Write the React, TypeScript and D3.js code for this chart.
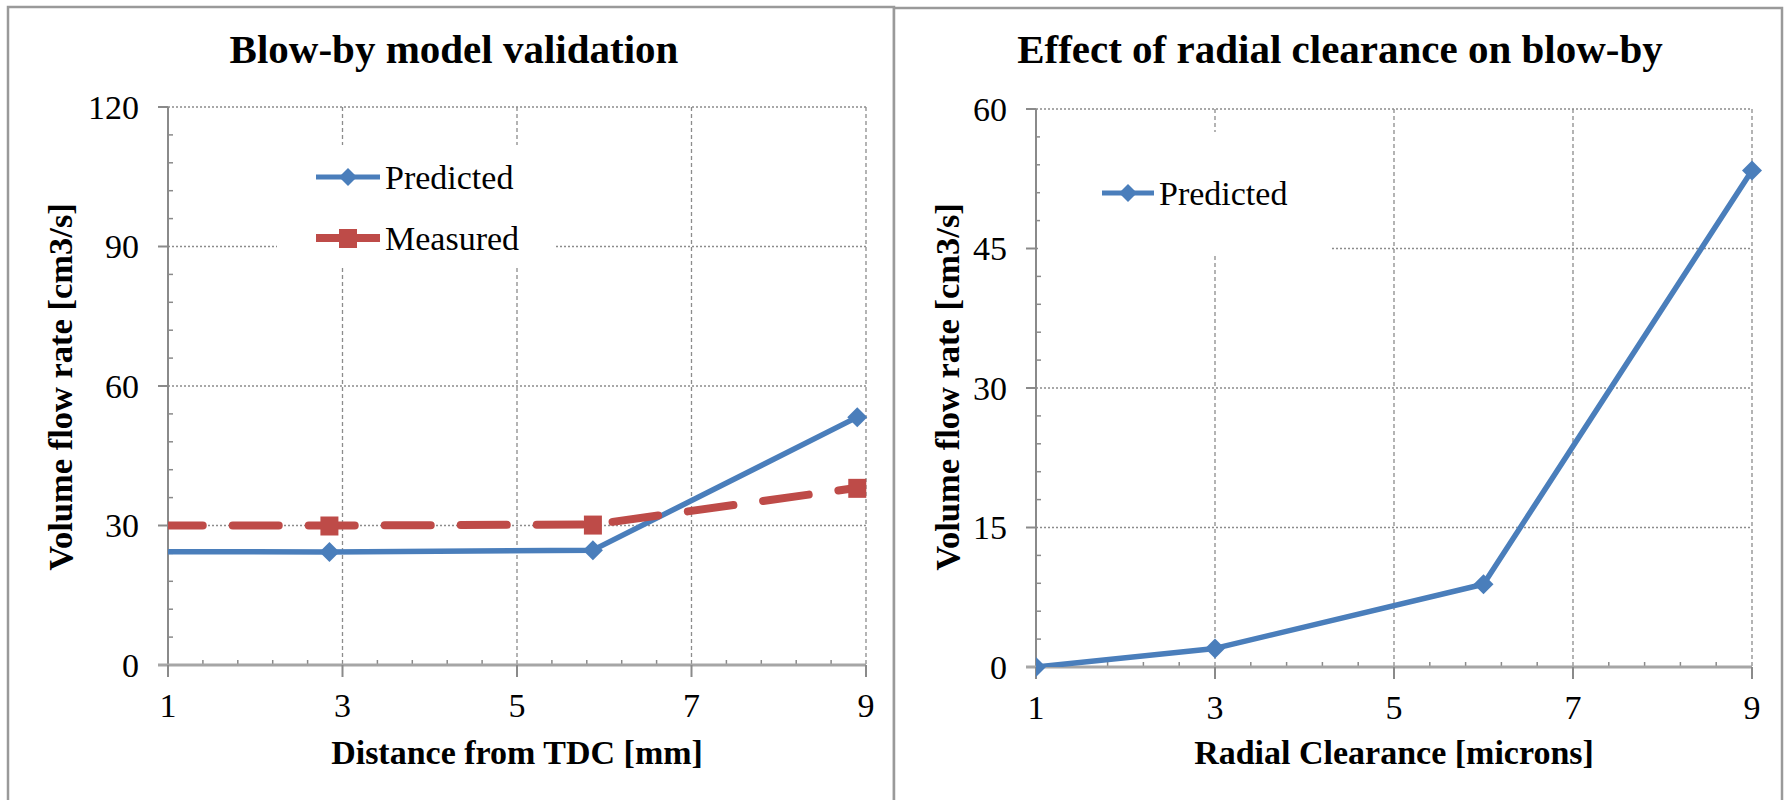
import React from "react";
import * as d3 from "d3";

// shared x ticks
const xTicks = [1, 3, 5, 7, 9];

// left chart: blow-by model validation
const leftX = [0, 2.85, 5.87, 8.9];
const leftPredicted = [24.4, 24.3, 24.7, 53.3];
const leftMeasured = [30, 30, 30.2, 38.1];
const leftYTicks = [0, 30, 60, 90, 120];

// right chart: radial clearance
const rightX = [1, 3, 6, 9];
const rightPredicted = [0, 2.0, 8.9, 53.4];
const rightYTicks = [0, 15, 30, 45, 60];

const BLUE = "#4a7ebb";
const RED = "#be4b48";
const FONT = "'Liberation Serif', 'Times New Roman', serif";

const diamond = (r) => `M0,${-r}L${r},0L0,${r}L${-r},0Z`;

const Panel = ({ id, frame, plot, yTicks, series, title, titleX, xTitle, yTitleX, legend }) => {
  const x = d3.scaleLinear().domain([1, 9]).range([plot.left, plot.right]);
  const yMax = yTicks[yTicks.length - 1];
  const y = d3.scaleLinear().domain([0, yMax]).range([plot.bottom, plot.top]);
  const yStep = yTicks[1] - yTicks[0];
  const yMinor = d3.range(0, yMax + 0.001, yStep / 5).filter((v) => !yTicks.includes(v));
  const xMinor = d3.range(1, 9.001, 0.4).filter((v) => Math.abs(v - Math.round(v)) > 0.01 || Math.round(v) % 2 === 0);
  const line = d3.line().x((d) => x(d[0])).y((d) => y(d[1]));

  return (
    <g>
      <rect x={frame.x} y={frame.y} width={frame.w} height={frame.h} fill="#fff" stroke="#9a9a9a" strokeWidth={2.5} />
      <text x={titleX} y={63} textAnchor="middle" fontSize={41} fontWeight="bold" fontFamily={FONT}>{title}</text>

      {/* grid */}
      {yTicks.filter((v) => v > 0).map((v) => (
        <line key={"gy" + v} x1={plot.left} x2={plot.right} y1={y(v)} y2={y(v)} stroke="#8c8c8c" strokeWidth={1.3} strokeDasharray="2 2" />
      ))}
      {xTicks.filter((v) => v > 1).map((v) => (
        <line key={"gx" + v} x1={x(v)} x2={x(v)} y1={plot.top} y2={plot.bottom} stroke="#8c8c8c" strokeWidth={1.3} strokeDasharray="4 3" />
      ))}

      {/* axes */}
      <line x1={plot.left} x2={plot.left} y1={plot.top} y2={plot.bottom} stroke="#8a8a8a" strokeWidth={2} />
      {yTicks.map((v) => (
        <line key={"ty" + v} x1={plot.left - 10} x2={plot.left} y1={y(v)} y2={y(v)} stroke="#8a8a8a" strokeWidth={2} />
      ))}
      {yMinor.map((v) => (
        <line key={"my" + v} x1={plot.left} x2={plot.left + 5} y1={y(v)} y2={y(v)} stroke="#8a8a8a" strokeWidth={1.5} />
      ))}
      {xMinor.map((v) => (
        <line key={"mx" + v} x1={x(v)} x2={x(v)} y1={plot.bottom - 5} y2={plot.bottom} stroke="#8a8a8a" strokeWidth={1.5} />
      ))}
      <line x1={plot.left - 10} x2={plot.right} y1={plot.bottom} y2={plot.bottom} stroke="#a6a6a6" strokeWidth={3} />
      {xTicks.map((v) => (
        <line key={"tx" + v} x1={x(v)} x2={x(v)} y1={plot.bottom} y2={plot.bottom + 12} stroke="#8a8a8a" strokeWidth={2} />
      ))}

      {yTicks.map((v) => (
        <text key={"ly" + v} x={plot.left - 29} y={y(v)} dy="0.35em" textAnchor="end" fontSize={34} fontFamily={FONT}>{v}</text>
      ))}
      {xTicks.map((v) => (
        <text key={"lx" + v} x={x(v)} y={plot.bottom + 52} textAnchor="middle" fontSize={34} fontFamily={FONT}>{v}</text>
      ))}

      <text x={(plot.left + plot.right) / 2} y={764} textAnchor="middle" fontSize={34} fontWeight="bold" fontFamily={FONT}>{xTitle}</text>
      <text transform={`translate(${yTitleX},${387}) rotate(-90)`} textAnchor="middle" fontSize={34.5} fontWeight="bold" fontFamily={FONT}>Volume flow rate [cm3/s]</text>

      {/* legend box */}
      <rect x={legend.x} y={legend.y} width={legend.w} height={legend.h} fill="#fff" />

      <clipPath id={id}>
        <rect x={plot.left} y={plot.top - 20} width={plot.right - plot.left + 20} height={plot.bottom - plot.top + 40} />
      </clipPath>
      <clipPath id={id + "-line"}>
        <rect x={plot.left} y={plot.top} width={plot.right - plot.left} height={plot.bottom - plot.top} />
      </clipPath>

      {series.map((s) => (
        <g key={s.name}>
          <path
            d={line(s.xs.map((xv, i) => [xv, s.ys[i]]))}
            fill="none"
            stroke={s.color}
            strokeWidth={s.dashed ? 8 : 5.5}
            strokeDasharray={s.dashed ? "46 30" : null}
            strokeLinecap={s.dashed ? "round" : "butt"}
            strokeLinejoin="round"
            clipPath={`url(#${id}-line)`}
          />
          <g clipPath={`url(#${id})`}>
            {s.xs.map((xv, i) =>
              xv < 1 ? null : s.marker === "square" ? (
                <rect key={i} x={x(xv) - 9} y={y(s.ys[i]) - 9} width={18} height={19} fill={s.color} />
              ) : (
                <path key={i} d={diamond(10)} transform={`translate(${x(xv)},${y(s.ys[i])})`} fill={s.color} />
              )
            )}
          </g>
        </g>
      ))}

      {/* legend entries */}
      {series.map((s, i) => {
        const ly = legend.itemY + i * 61;
        const cx = (legend.lineX0 + legend.lineX1) / 2;
        return (
          <g key={"leg" + s.name}>
            <line x1={legend.lineX0} x2={legend.lineX1} y1={ly} y2={ly} stroke={s.color} strokeWidth={s.dashed ? 8 : 5} />
            {s.marker === "square" ? (
              <rect x={cx - 9} y={ly - 9} width={18} height={19} fill={s.color} />
            ) : (
              <path d={diamond(9)} transform={`translate(${cx},${ly})`} fill={s.color} />
            )}
            <text x={legend.lineX1 + 5} y={ly} dy="0.35em" fontSize={34} fontFamily={FONT}>{s.name}</text>
          </g>
        );
      })}
    </g>
  );
};

export default function App() {
  return (
    <svg width={1784} height={800} style={{ position: "absolute", left: 0, top: 0, display: "block" }}>
      <rect width={1784} height={800} fill="#fff" />
      <Panel
        id="clipL"
        frame={{ x: 8, y: 7, w: 886, h: 810 }}
        plot={{ left: 168, right: 866, top: 107, bottom: 665 }}
        yTicks={leftYTicks}
        series={[
          { name: "Predicted", xs: leftX, ys: leftPredicted, color: BLUE, marker: "diamond" },
          { name: "Measured", xs: leftX, ys: leftMeasured, color: RED, marker: "square", dashed: true },
        ]}
        title="Blow-by model validation"
        titleX={454}
        xTitle="Distance from TDC [mm]"
        yTitleX={72}
        legend={{ x: 277, y: 145, w: 277, h: 122, itemY: 177, lineX0: 316, lineX1: 380 }}
      />
      <Panel
        id="clipR"
        frame={{ x: 894, y: 8, w: 888, h: 810 }}
        plot={{ left: 1036, right: 1752, top: 109, bottom: 667 }}
        yTicks={rightYTicks}
        series={[{ name: "Predicted", xs: rightX, ys: rightPredicted, color: BLUE, marker: "diamond" }]}
        title="Effect of radial clearance on blow-by"
        titleX={1340}
        xTitle="Radial Clearance [microns]"
        yTitleX={959}
        legend={{ x: 1040, y: 132, w: 292, h: 124, itemY: 193, lineX0: 1102, lineX1: 1154 }}
      />
    </svg>
  );
}
